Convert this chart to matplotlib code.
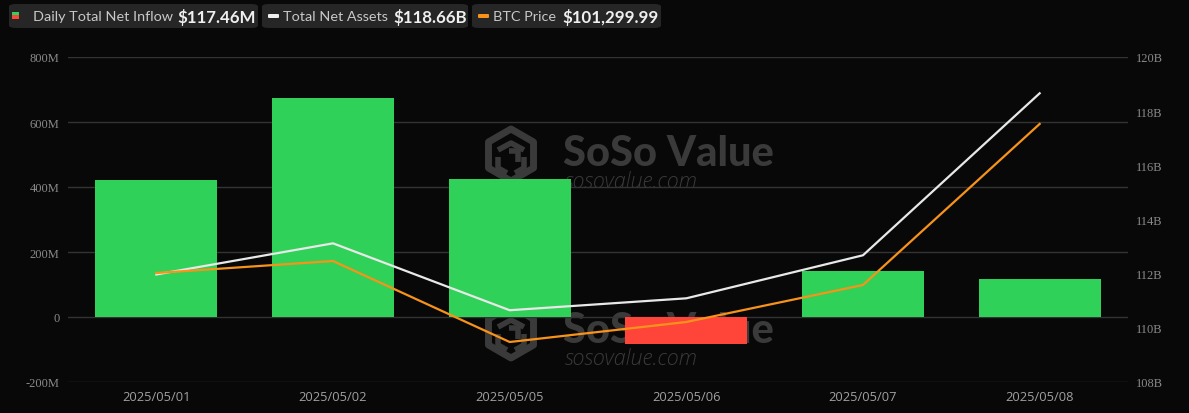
import matplotlib
matplotlib.use("Agg")
import matplotlib.pyplot as plt
from matplotlib.patches import FancyBboxPatch, Rectangle
from matplotlib.transforms import IdentityTransform
import numpy as np

dates = ["2025/05/01", "2025/05/02", "2025/05/05", "2025/05/06", "2025/05/07", "2025/05/08"]
net_inflow_m = [421.5, 673.8, 424.6, -82.5, 141.5, 117.46]
total_net_assets_b = [111.97, 113.12, 110.65, 111.09, 112.68, 118.66]
btc_price = [96500, 96886, 94278, 94922, 96114, 101299.99]

left_ticks = [-200, 0, 200, 400, 600, 800]
left_labels = ["-200M", "0", "200M", "400M", "600M", "800M"]
right_ticks = [108, 110, 112, 114, 116, 118, 120]
right_labels = ["108B", "110B", "112B", "114B", "116B", "118B", "120B"]

BG = "#080808"
GREEN = "#30d158"
RED = "#ff453a"
ORANGE = "#f7931a"
WHITE_LINE = "#e8e8e8"
GRID = "#333333"
TICK = "#8a8a8a"
WM = "#3a3a3a"

W, H = 1189, 414
fig = plt.figure(figsize=(W / 100, H / 100), dpi=100, facecolor=BG)
L, R, T, B = 68, 1128, 58, 383
ax = fig.add_axes([L / W, 1 - B / H, (R - L) / W, (B - T) / H])
for s in ax.spines.values():
    s.set_visible(False)

x = np.arange(len(dates))
ax.set_xlim(-0.5, len(dates) - 0.5)
ax.set_ylim(-200, 800)
ax.set_yticks(left_ticks)
ax.set_yticklabels(left_labels, family="Liberation Serif", color=TICK, fontsize=9)
ax.yaxis.grid(True, color=GRID, linewidth=1)
ax.set_axisbelow(True)
ax.tick_params(axis="y", length=0, pad=6)
ax.set_xticks(x)
ax.set_xticklabels(dates, family="Open Sans", color="#a0a0a0", fontsize=9.3)
ax.tick_params(axis="x", length=0, pad=6)


def watermark(cx, cy):
    fx = lambda px: px / W
    fy = lambda py: 1 - py / H
    r = 26
    ang = np.deg2rad(np.arange(6) * 60 + 90)
    pts = np.column_stack([cx + r * np.cos(ang), H - (cy - r * np.sin(ang))])
    poly = plt.Polygon(pts, closed=True, transform=IdentityTransform(),
                       facecolor="none", edgecolor=WM, linewidth=5, zorder=0.5,
                       joinstyle="round")
    fig.add_artist(poly)
    segs = [[(cx - 13, cy - 5), (cx, cy - 12), (cx + 13, cy - 5)],
            [(cx - 2, cy - 4), (cx + 7, cy - 4), (cx + 7, cy + 7)],
            [(cx - 13, cy + 2), (cx - 13, cy + 13), (cx - 4, cy + 18)],
            [(cx + 13, cy + 2), (cx + 13, cy + 13), (cx + 4, cy + 18)]]
    for sg in segs:
        sg = np.array(sg, dtype=float)
        fig.add_artist(plt.Line2D(sg[:, 0], H - sg[:, 1], transform=IdentityTransform(),
                                  color=WM, linewidth=4, zorder=0.5,
                                  solid_capstyle="butt"))
    fig.text(fx(cx + 52), fy(cy - 2), "SoSo Value", family="Lato", fontweight="black",
             fontsize=30, color=WM, va="center", ha="left", zorder=0.5)
    fig.text(fx(cx + 54), fy(cy + 26), "sosovalue.com", family="Open Sans", style="italic",
             fontweight="light", fontsize=15.5, color=WM, va="center", ha="left", zorder=0.5)


watermark(511, 156)
watermark(511, 333)
ax.set_zorder(1)
ax.patch.set_alpha(0)

colors = [GREEN if v >= 0 else RED for v in net_inflow_m]
ax.bar(x, net_inflow_m, width=0.69, color=colors, zorder=2)

ax2 = ax.twinx()
ax2.set_ylim(108, 120)
ax2.set_yticks(right_ticks)
ax2.set_yticklabels(right_labels, family="Liberation Serif", color=TICK, fontsize=9)
ax2.tick_params(axis="y", length=0, pad=6)
for s in ax2.spines.values():
    s.set_visible(False)
ax2.plot(x, total_net_assets_b, color=WHITE_LINE, linewidth=1.6, zorder=3)

ax3 = ax.twinx()
ax3.set_ylim(92990, 103455)
ax3.axis("off")
ax3.plot(x, btc_price, color=ORANGE, linewidth=1.6, zorder=3)


def box(x0, x1):
    p = FancyBboxPatch((x0 / W, 1 - 29 / H), (x1 - x0) / W, 24 / H,
                       boxstyle="round,pad=0,rounding_size=0.006",
                       transform=fig.transFigure, facecolor="#262626",
                       edgecolor="none", zorder=5)
    fig.add_artist(p)


ty = 1 - 17 / H
box(9, 258)
fig.add_artist(Rectangle((12 / W, 1 - 16 / H), 7 / W, 3.5 / H, transform=fig.transFigure,
                         facecolor=GREEN, edgecolor="none", zorder=6))
fig.add_artist(Rectangle((12 / W, 1 - 19.5 / H), 7 / W, 3.5 / H, transform=fig.transFigure,
                         facecolor=RED, edgecolor="none", zorder=6))
fig.text(33 / W, ty, "Daily Total Net Inflow", family="Lato", fontsize=10.4,
         color="#c8c8c8", va="center", zorder=6)
fig.text(177 / W, ty, "$117.46M", family="Lato", fontweight="bold", fontsize=12.2,
         color="#f0f0f0", va="center", zorder=6)

box(262, 468)
fig.add_artist(FancyBboxPatch((268 / W, 1 - 19 / H), 11 / W, 4 / H,
                              boxstyle="round,pad=0,rounding_size=0.0015",
                              transform=fig.transFigure, facecolor="#f0f0f0",
                              edgecolor="none", zorder=6))
fig.text(283 / W, ty, "Total Net Assets", family="Lato", fontsize=10.4,
         color="#c8c8c8", va="center", zorder=6)
fig.text(393 / W, ty, "$118.66B", family="Lato", fontweight="bold", fontsize=12.2,
         color="#f0f0f0", va="center", zorder=6)

box(472, 661)
fig.add_artist(FancyBboxPatch((478 / W, 1 - 19 / H), 11 / W, 4 / H,
                              boxstyle="round,pad=0,rounding_size=0.0015",
                              transform=fig.transFigure, facecolor=ORANGE,
                              edgecolor="none", zorder=6))
fig.text(493 / W, ty, "BTC Price", family="Lato", fontsize=10.4,
         color="#c8c8c8", va="center", zorder=6)
fig.text(562 / W, ty, "$101,299.99", family="Lato", fontweight="bold", fontsize=12.2,
         color="#f0f0f0", va="center", zorder=6)

fig.savefig("out.png", dpi=100, facecolor=BG)
